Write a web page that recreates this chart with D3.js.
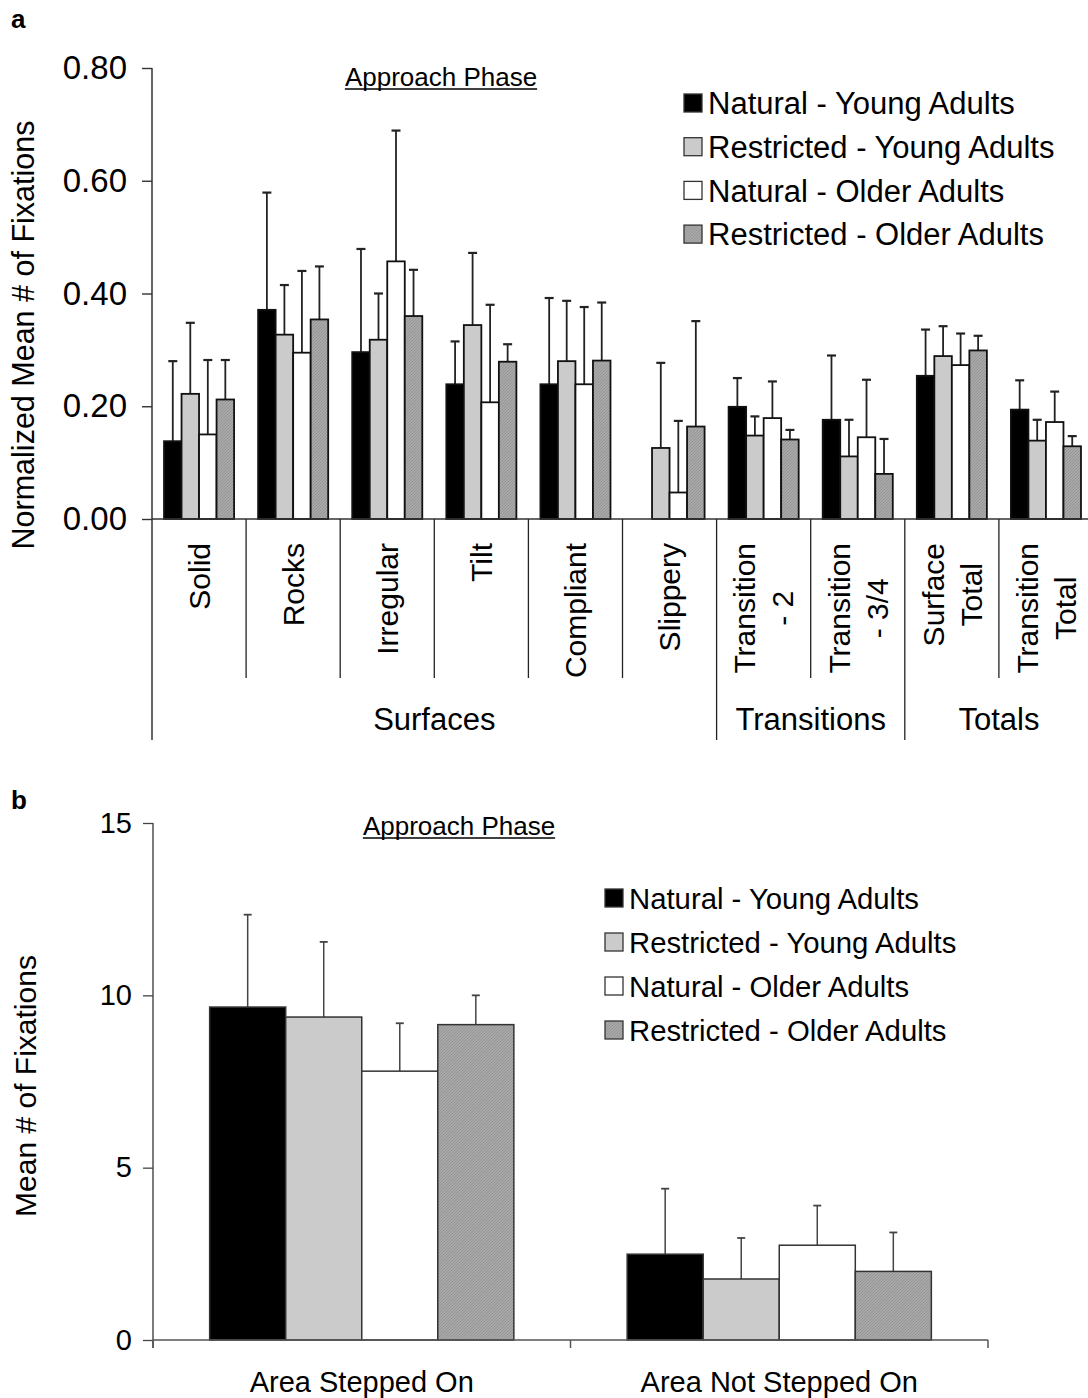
<!DOCTYPE html>
<html>
<head>
<meta charset="utf-8">
<script src="https://cdn.jsdelivr.net/npm/d3@7/dist/d3.min.js"></script>
<style>
  html, body { margin: 0; padding: 0; background: #fff; }
  svg { display: block; }
  text { font-family: "Liberation Sans", Arial, Helvetica, sans-serif; fill: #000; }
</style>
</head>
<body>
<svg id="chart" width="1088" height="1398"></svg>
<script>
// ---------- data ----------
const seriesNames = [
  "Natural - Young Adults",
  "Restricted - Young Adults",
  "Natural - Older Adults",
  "Restricted - Older Adults"
];

// Panel a: normalized mean number of fixations per terrain category
const categoriesA = [
  "Solid", "Rocks", "Irregular", "Tilt", "Compliant", "Slippery",
  "Transition\n- 2", "Transition\n- 3/4", "Surface\nTotal", "Transition\nTotal"
];
const groupNamesA = ["Surfaces", "Transitions", "Totals"];
const groupSizesA = [6, 2, 2];

const natYoungA = [0.138, 0.371, 0.296, 0.239, 0.239, 0.000, 0.199, 0.176, 0.254, 0.194];
const resYoungA = [0.222, 0.327, 0.318, 0.344, 0.280, 0.126, 0.148, 0.111, 0.289, 0.139];
const natOlderA = [0.150, 0.295, 0.457, 0.207, 0.239, 0.047, 0.179, 0.145, 0.273, 0.172];
const resOlderA = [0.212, 0.354, 0.360, 0.279, 0.281, 0.164, 0.141, 0.080, 0.299, 0.129];

const natYoungErrA = [0.142, 0.208, 0.183, 0.076, 0.153, 0.000, 0.051, 0.114, 0.082, 0.052];
const resYoungErrA = [0.126, 0.088, 0.082, 0.128, 0.107, 0.151, 0.034, 0.065, 0.053, 0.037];
const natOlderErrA = [0.132, 0.145, 0.232, 0.173, 0.137, 0.127, 0.065, 0.102, 0.056, 0.054];
const resOlderErrA = [0.070, 0.094, 0.082, 0.031, 0.103, 0.187, 0.017, 0.062, 0.026, 0.018];

const ticksA = [0, 0.2, 0.4, 0.6, 0.8];

// Panel b: mean number of fixations on stepped / not-stepped areas
const categoriesB = ["Area Stepped On", "Area Not Stepped On"];
const natYoungB = [9.66, 2.49];
const resYoungB = [9.37, 1.77];
const natOlderB = [7.80, 2.75];
const resOlderB = [9.15, 1.99];

const natYoungErrB = [2.68, 1.90];
const resYoungErrB = [2.18, 1.19];
const natOlderErrB = [1.39, 1.15];
const resOlderErrB = [0.85, 1.13];

const ticksB = [0, 5, 10, 15];

// ---------- helpers ----------
const svg = d3.select("#chart");
const FONT = '"Liberation Sans", Arial, Helvetica, sans-serif';

const defs = svg.append("defs");
const hatch = defs.append("pattern")
  .attr("id", "hatch").attr("patternUnits", "userSpaceOnUse")
  .attr("width", 3).attr("height", 3);
hatch.append("rect").attr("width", 3).attr("height", 3).attr("fill", "#a8a8a8");
hatch.append("path").attr("d", "M0,3 L3,0 M-1,1 L1,-1 M2,4 L4,2")
  .attr("stroke", "#909090").attr("stroke-width", 0.8);

const fills = ["#000000", "#cbcbcb", "#ffffff", "url(#hatch)"];

function rowsFrom(cats, means, errs) {
  const out = [];
  cats.forEach((c, i) => {
    seriesNames.forEach((s, j) => {
      out.push({ cat: c, series: s, idx: j, value: means[j][i], err: errs[j][i] });
    });
  });
  return out;
}

function drawLegend(g, x0, y0, dy, fs, sw) {
  seriesNames.forEach((s, j) => {
    const row = g.append("g").attr("transform", `translate(${x0},${y0 + j * dy})`);
    row.append("rect")
      .attr("x", 0).attr("y", -sw / 2).attr("width", sw).attr("height", sw)
      .attr("fill", fills[j]).attr("stroke", "#333").attr("stroke-width", 1.3);
    row.append("text")
      .attr("x", sw + 6).attr("y", fs * 0.36)
      .style("font-size", fs + "px")
      .text(s);
  });
}

function underlinedTitle(g, cx, baseline, fs, label) {
  const t = g.append("text")
    .attr("x", cx).attr("y", baseline)
    .attr("text-anchor", "middle")
    .style("font-size", fs + "px")
    .text(label);
  const w = t.node().getComputedTextLength();
  g.append("line")
    .attr("x1", cx - w / 2).attr("x2", cx + w / 2)
    .attr("y1", baseline + 3).attr("y2", baseline + 3)
    .attr("stroke", "#000").attr("stroke-width", 1.4);
}

// ---------- panel a ----------
const gA = svg.append("g");
const yA = d3.scaleLinear().domain([0, 0.8]).range([519, 68]);
const xA = d3.scaleBand().domain(categoriesA).range([152, 1093]).padding(0);
const xInA = d3.scaleBand().domain(seriesNames).range([0, xA.bandwidth()])
  .paddingInner(0).paddingOuter(0.686);

gA.append("text").attr("x", 11).attr("y", 28)
  .style("font-size", "26px").style("font-weight", "bold").text("a");

// y axis
const axA = gA.append("g").attr("transform", "translate(152,0)")
  .call(d3.axisLeft(yA).tickValues(ticksA).tickFormat(d3.format(".2f"))
    .tickSize(10).tickSizeOuter(0).tickPadding(15));
axA.select(".domain").remove();
axA.selectAll(".tick line").attr("stroke", "#333").attr("stroke-width", 1.4);
axA.selectAll(".tick text").style("font-family", FONT).style("font-size", "33px").attr("fill", "#000");

gA.append("line").attr("x1", 152).attr("x2", 152).attr("y1", 68).attr("y2", 740)
  .attr("stroke", "#333").attr("stroke-width", 1.5);

gA.append("text")
  .attr("transform", "translate(34,335) rotate(-90)")
  .attr("text-anchor", "middle")
  .style("font-size", "30.5px")
  .text("Normalized Mean # of Fixations");

// bars
const rowsA = rowsFrom(categoriesA,
  [natYoungA, resYoungA, natOlderA, resOlderA],
  [natYoungErrA, resYoungErrA, natOlderErrA, resOlderErrA]).filter(d => d.value > 0);

// error bars first so the bar tops cover their base
const errA = gA.append("g").selectAll("g").data(rowsA).join("g");
errA.each(function (d) {
  const cx = xA(d.cat) + xInA(d.series) + xInA.bandwidth() / 2;
  const g = d3.select(this);
  g.append("line").attr("x1", cx).attr("x2", cx)
    .attr("y1", yA(d.value)).attr("y2", yA(d.value + d.err))
    .attr("stroke", "#222").attr("stroke-width", 1.8);
  g.append("line").attr("x1", cx - 4.5).attr("x2", cx + 4.5)
    .attr("y1", yA(d.value + d.err)).attr("y2", yA(d.value + d.err))
    .attr("stroke", "#222").attr("stroke-width", 2.2);
});

gA.append("g").selectAll("rect").data(rowsA).join("rect")
  .attr("x", d => xA(d.cat) + xInA(d.series))
  .attr("y", d => yA(d.value))
  .attr("width", xInA.bandwidth())
  .attr("height", d => yA(0) - yA(d.value))
  .attr("fill", d => fills[d.idx])
  .attr("stroke", "#111").attr("stroke-width", 1.8);

// x baseline
gA.append("line").attr("x1", 152).attr("x2", 1093).attr("y1", 519).attr("y2", 519)
  .attr("stroke", "#333").attr("stroke-width", 1.6);

// category separators and group separators
const groupEdges = [0];
groupSizesA.forEach(n => groupEdges.push(groupEdges[groupEdges.length - 1] + n));
categoriesA.forEach((c, i) => {
  if (i === 0) return;
  const isGroup = groupEdges.includes(i);
  gA.append("line").attr("x1", xA(c)).attr("x2", xA(c))
    .attr("y1", 519).attr("y2", isGroup ? 740 : 678)
    .attr("stroke", "#222").attr("stroke-width", 1.3);
});
gA.append("line").attr("x1", 1093).attr("x2", 1093).attr("y1", 519).attr("y2", 740)
  .attr("stroke", "#222").attr("stroke-width", 1.3);

// rotated category labels
const catFs = 30, lineH = 38, labelTop = 543;
categoriesA.forEach(c => {
  const lines = c.split("\n");
  const cx = xA(c) + xA.bandwidth() / 2;
  const probes = lines.map(l => gA.append("text").style("font-size", catFs + "px").text(l));
  const maxLen = d3.max(probes, p => p.node().getComputedTextLength());
  probes.forEach(p => p.remove());
  const yc = labelTop + maxLen / 2;
  lines.forEach((l, k) => {
    const bx = cx + catFs * 0.36 + (k - (lines.length - 1) / 2) * lineH;
    gA.append("text")
      .attr("transform", `translate(${bx},${yc}) rotate(-90)`)
      .attr("text-anchor", "middle")
      .style("font-size", catFs + "px")
      .text(l);
  });
});

// group labels
let startIdx = 0;
groupNamesA.forEach((name, k) => {
  const a = xA(categoriesA[startIdx]);
  const last = categoriesA[startIdx + groupSizesA[k] - 1];
  const b = xA(last) + xA.bandwidth();
  gA.append("text").attr("x", (a + b) / 2).attr("y", 730)
    .attr("text-anchor", "middle").style("font-size", "31px").text(name);
  startIdx += groupSizesA[k];
});

underlinedTitle(gA, 441, 86, 26, "Approach Phase");
drawLegend(gA, 684, 103, 43.7, 31, 18);

// ---------- panel b ----------
const gB = svg.append("g");
const yB = d3.scaleLinear().domain([0, 15]).range([1340, 823]);
const xB = d3.scaleBand().domain(categoriesB).range([153, 988]).padding(0);
const xInB = d3.scaleBand().domain(seriesNames).range([0, xB.bandwidth()])
  .paddingInner(0).paddingOuter(0.745);

gB.append("text").attr("x", 11).attr("y", 809)
  .style("font-size", "26px").style("font-weight", "bold").text("b");

const axB = gB.append("g").attr("transform", "translate(153,0)")
  .call(d3.axisLeft(yB).tickValues(ticksB).tickFormat(d3.format("d"))
    .tickSize(10).tickSizeOuter(0).tickPadding(11));
axB.select(".domain").remove();
axB.selectAll(".tick line").attr("stroke", "#444").attr("stroke-width", 1.3);
axB.selectAll(".tick text").style("font-family", FONT).style("font-size", "29px").attr("fill", "#000");

gB.append("line").attr("x1", 153).attr("x2", 153).attr("y1", 823).attr("y2", 1348)
  .attr("stroke", "#444").attr("stroke-width", 1.4);

gB.append("text")
  .attr("transform", "translate(36,1086) rotate(-90)")
  .attr("text-anchor", "middle")
  .style("font-size", "30px")
  .text("Mean # of Fixations");

const rowsB = rowsFrom(categoriesB,
  [natYoungB, resYoungB, natOlderB, resOlderB],
  [natYoungErrB, resYoungErrB, natOlderErrB, resOlderErrB]);

const errB = gB.append("g").selectAll("g").data(rowsB).join("g");
errB.each(function (d) {
  const cx = xB(d.cat) + xInB(d.series) + xInB.bandwidth() / 2;
  const g = d3.select(this);
  g.append("line").attr("x1", cx).attr("x2", cx)
    .attr("y1", yB(d.value)).attr("y2", yB(d.value + d.err))
    .attr("stroke", "#444").attr("stroke-width", 1.5);
  g.append("line").attr("x1", cx - 4).attr("x2", cx + 4)
    .attr("y1", yB(d.value + d.err)).attr("y2", yB(d.value + d.err))
    .attr("stroke", "#444").attr("stroke-width", 1.8);
});

gB.append("g").selectAll("rect").data(rowsB).join("rect")
  .attr("x", d => xB(d.cat) + xInB(d.series))
  .attr("y", d => yB(d.value))
  .attr("width", xInB.bandwidth())
  .attr("height", d => yB(0) - yB(d.value))
  .attr("fill", d => fills[d.idx])
  .attr("stroke", "#333").attr("stroke-width", 1.5);

gB.append("line").attr("x1", 153).attr("x2", 988).attr("y1", 1340).attr("y2", 1340)
  .attr("stroke", "#555").attr("stroke-width", 1.5);
[153, ...categoriesB.map(c => xB(c) + xB.bandwidth())].forEach(x => {
  gB.append("line").attr("x1", x).attr("x2", x).attr("y1", 1340).attr("y2", 1348)
    .attr("stroke", "#555").attr("stroke-width", 1.5);
});

categoriesB.forEach(c => {
  gB.append("text").attr("x", xB(c) + xB.bandwidth() / 2).attr("y", 1392)
    .attr("text-anchor", "middle").style("font-size", "29px").text(c);
});

underlinedTitle(gB, 459, 835, 26, "Approach Phase");
drawLegend(gB, 605, 898, 44, 29.3, 18);
</script>
</body>
</html>
